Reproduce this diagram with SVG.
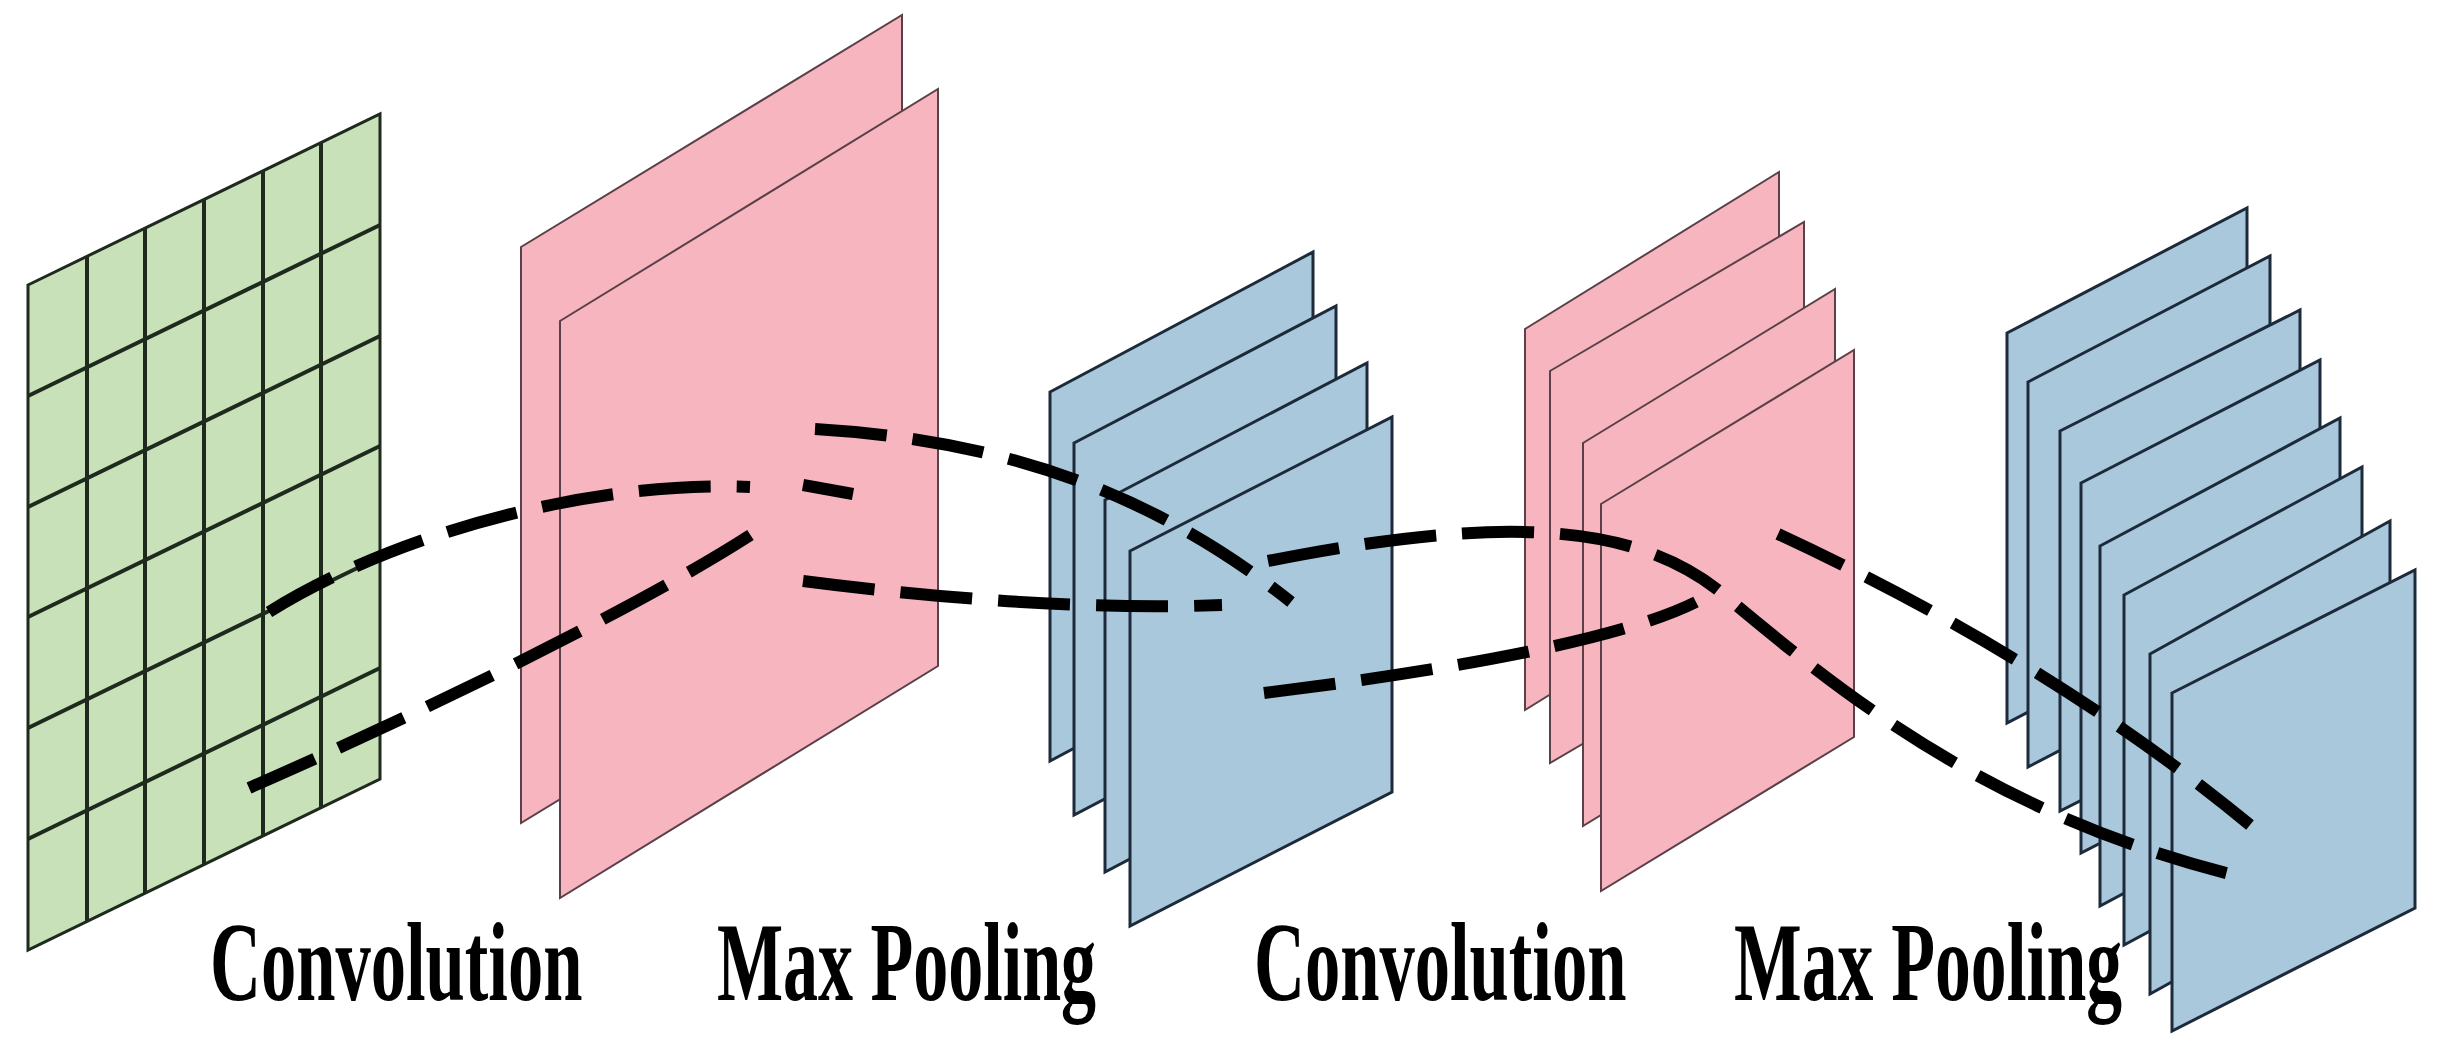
<svg xmlns="http://www.w3.org/2000/svg" width="2443" height="1060" viewBox="0 0 2443 1060">
<style>
.g{fill:#c9e1b9;stroke:#1e2a1e;stroke-width:3}
.gl{stroke:#1e2a1e;stroke-width:4;fill:none}
.p{fill:#f7b5bf;stroke:#5a4048;stroke-width:2}
.b{fill:#aac8dc;stroke:#1c2a3a;stroke-width:3}
.d{fill:none;stroke:#000;stroke-width:12;stroke-dasharray:72 26}
.t{font-family:"Liberation Serif",serif;font-weight:bold;font-size:112px;fill:#000}
</style>
<rect width="2443" height="1060" fill="#fff"/>
<g id="input">
<polygon class="g" points="28,285 380,114 380,779 28,950"/>
<path class="gl" d="M87,256V921M145,228V893M204,199V864M263,171V836M321,142V807M28,396L380,225M28,507L380,336M28,617L380,446M28,728L380,557M28,839L380,668"/>
</g>
<g id="pool1">
<polygon class="p" points="521,247 902,15 902,591 521,823"/>
<polygon class="p" points="560,321 938,89 938,666 560,898"/>
</g>
<g id="conv2">
<polygon class="b" points="1050,392 1313,252 1313,621 1050,761"/>
<polygon class="b" points="1074,443 1336,306 1336,678 1074,815"/>
<polygon class="b" points="1105,500 1367,363 1367,735 1105,872"/>
<polygon class="b" points="1130,551 1392,417 1392,792 1130,926"/>
</g>
<g id="pool2">
<polygon class="p" points="1525,329 1779,172 1779,553 1525,710"/>
<polygon class="p" points="1550,371 1804,222 1804,614 1550,763"/>
<polygon class="p" points="1583,443 1835,289 1835,672 1583,826"/>
<polygon class="p" points="1601,504 1854,350 1854,737 1601,891"/>
</g>
<g id="output">
<polygon class="b" points="2007,333 2247,208 2247,598 2007,723"/>
<polygon class="b" points="2028,382 2270,256 2270,641 2028,767"/>
<polygon class="b" points="2060,431 2300,310 2300,690 2060,811"/>
<polygon class="b" points="2081,483 2320,360 2320,730 2081,853"/>
<polygon class="b" points="2100,546 2340,418 2340,778 2100,906"/>
<polygon class="b" points="2124,595 2362,467 2362,817 2124,945"/>
<polygon class="b" points="2150,654 2390,521 2390,861 2150,994"/>
<polygon class="b" points="2172,693 2415,570 2415,908 2172,1031"/>
</g>
<g id="connectors">
<path class="d" d="M269,612 C400,530 600,480 750,487"/>
<path class="d" d="M803,485 L853,494" stroke-dasharray="none"/>
<path class="d" d="M249,788 C450,700 650,600 752,534"/>
<path class="d" d="M815,429 C1000,440 1150,490 1291,602"/>
<path class="d" d="M803,581 C950,600 1100,610 1222,605"/>
<path class="d" d="M1268,561 C1500,515 1640,520 1730,600 C1850,700 2000,820 2250,879"/>
<path class="d" d="M1264,693 C1450,670 1620,640 1696,602"/>
<path class="d" d="M1778,534 Q2050,660 2250,825"/>
</g>
<g id="labels">
<text class="t" transform="translate(210,1000) scale(0.63,1)">Convolution</text>
<text class="t" transform="translate(717,1000) scale(0.625,1)">Max Pooling</text>
<text class="t" transform="translate(1254,1000) scale(0.63,1)">Convolution</text>
<text class="t" transform="translate(1734,1000) scale(0.64,1)">Max Pooling</text>
</g>
</svg>
